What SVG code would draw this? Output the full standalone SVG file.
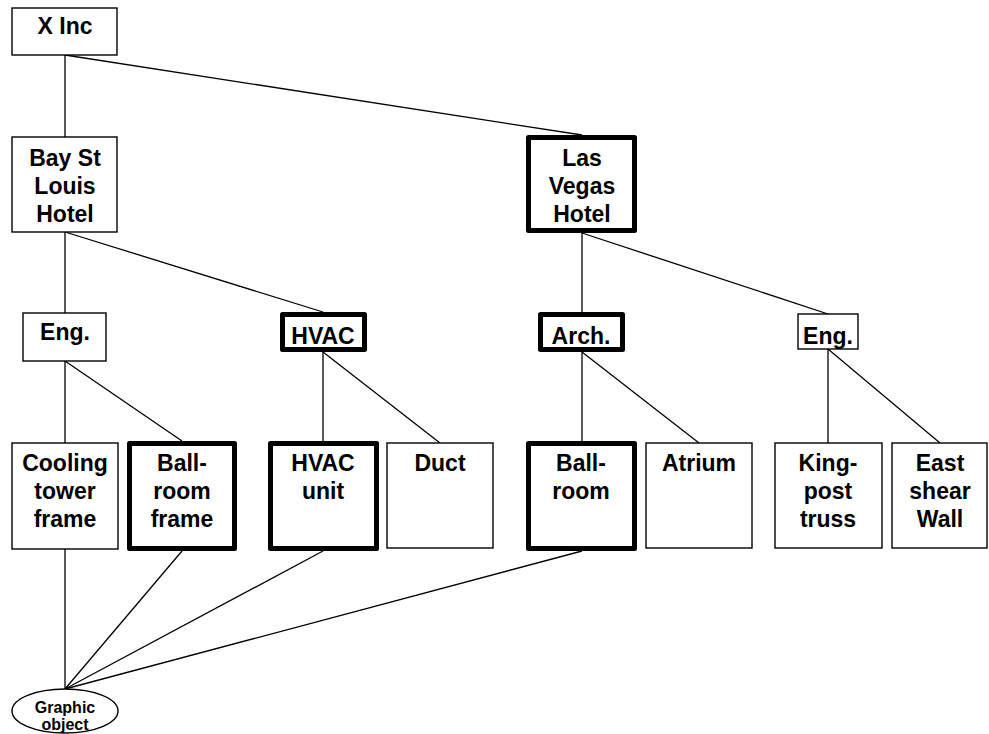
<svg xmlns="http://www.w3.org/2000/svg" width="989" height="734" viewBox="0 0 989 734">
<style>
.b{fill:#fff;stroke:#000;stroke-width:1.4}
.k{fill:#fff;stroke:#000;stroke-width:5;stroke-linejoin:round}
.t{font-family:"Liberation Sans",Arial,sans-serif;font-weight:bold;font-size:23px;text-anchor:middle;fill:#000}
.s{font-family:"Liberation Sans",Arial,sans-serif;font-weight:bold;font-size:16px;text-anchor:middle;fill:#000}
#connectors line{stroke:#000;stroke-width:1.3}
</style>
<rect width="989" height="734" fill="#fff"/>
<g id="connectors">
<line x1="65" y1="55" x2="65" y2="137"/>
<line x1="65" y1="55" x2="582" y2="135"/>
<line x1="65" y1="232" x2="65" y2="313"/>
<line x1="65" y1="232" x2="323" y2="312"/>
<line x1="582" y1="233" x2="582" y2="312"/>
<line x1="582" y1="233" x2="828" y2="314"/>
<line x1="65" y1="361" x2="65" y2="443"/>
<line x1="65" y1="361" x2="182" y2="441"/>
<line x1="323" y1="352" x2="323" y2="441"/>
<line x1="323" y1="352" x2="440" y2="443"/>
<line x1="582" y1="352" x2="582" y2="441"/>
<line x1="582" y1="352" x2="699" y2="443"/>
<line x1="828" y1="349" x2="828" y2="443"/>
<line x1="828" y1="349" x2="940" y2="443"/>
<line x1="65" y1="549" x2="65" y2="689"/>
<line x1="182" y1="551" x2="65" y2="689"/>
<line x1="323" y1="551" x2="65" y2="689"/>
<line x1="582" y1="551" x2="65" y2="689"/>
</g>
<g id="xinc"><rect class="b" x="12" y="8" width="105" height="47"/><text class="t" x="65" y="34">X Inc</text></g>
<g id="baystlouis"><rect class="b" x="12" y="137" width="105" height="95"/><text class="t" x="65" y="166">Bay St</text><text class="t" x="65" y="194">Louis</text><text class="t" x="65" y="222">Hotel</text></g>
<g id="lasvegas"><rect class="k" x="528.5" y="137.5" width="106" height="93"/><text class="t" x="582" y="166">Las</text><text class="t" x="582" y="194">Vegas</text><text class="t" x="582" y="222">Hotel</text></g>
<g id="eng1"><rect class="b" x="23" y="313" width="83" height="48"/><text class="t" x="65" y="340">Eng.</text></g>
<g id="hvac"><rect class="k" x="282.5" y="314.5" width="82" height="35"/><text class="t" x="323" y="344">HVAC</text></g>
<g id="arch"><rect class="k" x="540.5" y="314.5" width="82" height="35"/><text class="t" x="581" y="344">Arch.</text></g>
<g id="eng2"><rect class="b" x="798" y="314" width="60" height="35"/><text class="t" x="828" y="344">Eng.</text></g>
<g id="cooling"><rect class="b" x="12" y="443" width="106" height="106"/><text class="t" x="65" y="471">Cooling</text><text class="t" x="65" y="499">tower</text><text class="t" x="65" y="527">frame</text></g>
<g id="ballroomframe"><rect class="k" x="129.5" y="443.5" width="105" height="105"/><text class="t" x="182" y="471">Ball-</text><text class="t" x="182" y="499">room</text><text class="t" x="182" y="527">frame</text></g>
<g id="hvacunit"><rect class="k" x="270.5" y="443.5" width="106" height="105"/><text class="t" x="323" y="471">HVAC</text><text class="t" x="323" y="499">unit</text></g>
<g id="duct"><rect class="b" x="387" y="443" width="106" height="105"/><text class="t" x="440" y="471">Duct</text></g>
<g id="ballroom"><rect class="k" x="528.5" y="443.5" width="106" height="105"/><text class="t" x="581" y="471">Ball-</text><text class="t" x="581" y="499">room</text></g>
<g id="atrium"><rect class="b" x="646" y="443" width="106" height="105"/><text class="t" x="699" y="471">Atrium</text></g>
<g id="kingpost"><rect class="b" x="775" y="443" width="107" height="105"/><text class="t" x="828" y="471">King-</text><text class="t" x="828" y="499">post</text><text class="t" x="828" y="527">truss</text></g>
<g id="eastshear"><rect class="b" x="892" y="443" width="95" height="105"/><text class="t" x="940" y="471">East</text><text class="t" x="940" y="499">shear</text><text class="t" x="940" y="527">Wall</text></g>
<g id="graphic"><ellipse cx="65" cy="711" rx="53" ry="22" fill="#fff" stroke="#000" stroke-width="1.4"/><text class="s" x="65" y="713">Graphic</text><text class="s" x="65" y="730">object</text></g>
</svg>
